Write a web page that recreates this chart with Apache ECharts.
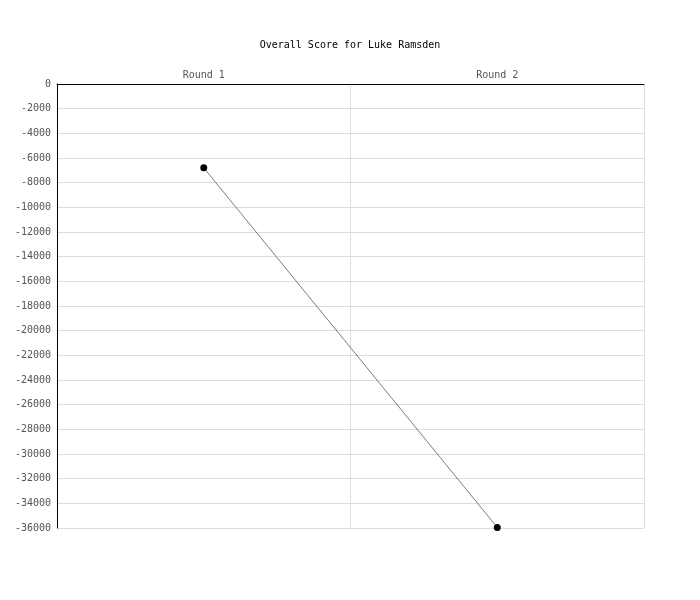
<!DOCTYPE html>
<html>
<head>
<meta charset="utf-8">
<script src="https://cdn.jsdelivr.net/npm/echarts@6/dist/echarts.min.js"></script>
<style>
  html, body { margin: 0; padding: 0; background: #fff; }
  #chart { width: 700px; height: 600px; }
</style>
</head>
<body>
<div id="chart"></div>
<script>
const rounds = ["Round 1", "Round 2"];
const scores = [-6800, -35950];
const yMin = -36000;
const yMax = 0;
const yStep = 2000;

const mono = "DejaVu Sans Mono";

const chart = echarts.init(document.getElementById("chart"));
chart.setOption({
  animation: false,
  title: {
    text: "Overall Score for Luke Ramsden",
    left: "center",
    top: 35,
    textStyle: { fontFamily: mono, fontSize: 10, fontWeight: "normal", color: "#000" },
  },
  grid: { left: 57, right: 56, top: 84, bottom: 72 },
  xAxis: {
    type: "category",
    position: "top",
    data: rounds,
    axisLine: { lineStyle: { color: "#000", width: 1 } },
    axisTick: { show: false },
    axisLabel: { fontFamily: mono, fontSize: 10, color: "#555", margin: 4 },
    splitLine: { show: true, lineStyle: { color: "#ddd", width: 1 } },
  },
  yAxis: {
    type: "value",
    min: yMin,
    max: yMax,
    interval: yStep,
    axisLine: { show: true, lineStyle: { color: "#000", width: 1 } },
    axisTick: { show: false },
    axisLabel: {
      fontFamily: mono,
      fontSize: 10,
      color: "#555",
      margin: 6,
      padding: [3, 0, 0, 0],
      formatter: (v) => String(v),
    },
    splitLine: { show: true, lineStyle: { color: "#ddd", width: 1 } },
  },
  series: [
    {
      type: "line",
      data: scores,
      symbol: "circle",
      symbolSize: 7,
      itemStyle: { color: "#000" },
      lineStyle: { color: "#444", width: 0.7 },
    },
  ],
});
</script>
</body>
</html>
